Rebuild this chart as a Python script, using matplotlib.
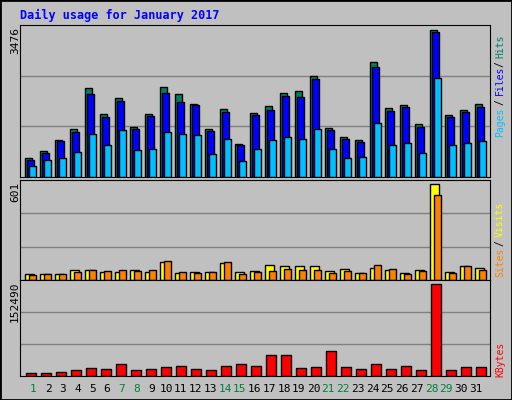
import matplotlib.pyplot as plt
import numpy as np

days = list(range(1, 32))
weekend = [1, 7, 8, 14, 15, 21, 22, 28, 29]
hits = [456, 621, 880, 1140, 2107, 1494, 1871, 1187, 1494, 2131, 1966, 1730, 1140, 1612, 786, 1518,
        1683, 1989, 2037, 2390, 1164, 951, 880, 2721, 1636, 1706, 1258, 3476, 1470, 1588, 1730]
files = [409, 574, 857, 1069, 1966, 1423, 1800, 1140, 1447, 1989, 1777, 1706, 1093, 1541, 762, 1470,
         1588, 1918, 1895, 2319, 1116, 904, 833, 2602, 1564, 1659, 1187, 3428, 1423, 1541, 1659]
pages = [267, 409, 456, 597, 1022, 762, 1116, 645, 668, 1069, 1022, 998, 550, 904, 385, 668,
         880, 951, 904, 1140, 668, 456, 479, 1281, 762, 810, 574, 2342, 762, 810, 857]
visits = [39, 39, 39, 65, 65, 52, 52, 65, 52, 111, 46, 52, 52, 105, 52, 59,
          92, 85, 85, 85, 59, 72, 46, 78, 65, 46, 65, 601, 52, 85, 78]
sites = [33, 39, 39, 52, 65, 59, 65, 59, 65, 118, 52, 46, 52, 111, 39, 52,
         59, 72, 65, 65, 46, 59, 46, 92, 72, 39, 59, 536, 46, 85, 65]
kbytes = [5027, 5027, 6703, 10055, 13406, 11730, 20110, 10055, 11730, 15082, 16758, 11730, 10055,
          16758, 20110, 16758, 35192, 35192, 13406, 15082, 41895, 15082, 11730, 20110, 11730,
          16758, 10055, 152490, 10055, 15082, 15082]

bg = '#c0c0c0'
fig = plt.figure(figsize=(5.12, 4.0), dpi=100, facecolor=bg)
fig.patches.append(plt.Rectangle((0, 0), 1, 1, transform=fig.transFigure, fill=False,
                                 edgecolor='black', linewidth=2))
x = np.arange(31)

def panel(bottom, height, ymax):
    ax = fig.add_axes([20 / 512, bottom, 470 / 512, height])
    ax.set_facecolor(bg)
    ax.set_xlim(-0.333, 30.98)
    ax.set_ylim(0, ymax)
    for f in (1 / 3, 2 / 3):
        ax.axhline(f * ymax, color='#808080', linewidth=1, zorder=0)
    ax.set_xticks([])
    ax.set_yticks([])
    for s in ax.spines.values():
        s.set_color('black')
    return ax

mono = 'DejaVu Sans Mono'

ax1 = panel(1 - 177 / 400, 152 / 400, 3476 * 152 / 147.4)
ax1.bar(x, hits, 0.467, align='edge', color='#00805c', edgecolor='black', linewidth=1)
ax1.bar(x + 0.133, files, 0.467, align='edge', color='#0000ff', edgecolor='black', linewidth=1)
ax1.bar(x + 0.267, pages, 0.467, align='edge', color='#00c0ff', edgecolor='black', linewidth=1)

ax2 = panel(1 - 280 / 400, 100 / 400, 601 * 100 / 95.7)
ax2.bar(x, visits, 0.6, align='edge', color='#ffff00', edgecolor='black', linewidth=1)
ax2.bar(x + 0.267, sites, 0.467, align='edge', color='#ff8000', edgecolor='black', linewidth=1)

ax3 = panel(1 - 376 / 400, 96 / 400, 152490 * 96 / 91.7)
ax3.bar(x + 0.067, kbytes, 0.667, align='edge', color='#ff0000', edgecolor='black', linewidth=1)

for d in days:
    col = '#008040' if d in weekend else 'black'
    fig.text((33.3 + (d - 1) * 14.75) / 512, 1 - 389 / 400, str(d), color=col,
             ha='center', va='center', fontsize=8, family=mono)

fig.text(20 / 512, 1 - 15 / 400, 'Daily usage for January 2017', color='#0000ff',
         fontsize=8.5, fontweight='bold', family=mono, va='center')

def ylab(txt, ytop):
    fig.text(15 / 512, 1 - ytop / 400, txt, rotation=90, ha='center', va='top',
             fontsize=8, family=mono)

ylab('3476', 27)
ylab('601', 182)
ylab('152490', 282)

def rlab(txt, ybottom, col):
    fig.text(500 / 512, 1 - ybottom / 400, txt, rotation=90, ha='center', va='bottom',
             fontsize=7, family=mono, color=col)

rlab('Pages', 137, '#00c0ff')
rlab('/', 105, 'black')
rlab('Files', 95, '#0000ff')
rlab('/', 67, 'black')
rlab('Hits', 58, '#00805c')
rlab('Sites', 277, '#ff8000')
rlab('/', 246, 'black')
rlab('Visits', 237, '#ffff00')
rlab('KBytes', 377, '#ff0000')

fig.savefig('out.png', dpi=100, facecolor=bg)
